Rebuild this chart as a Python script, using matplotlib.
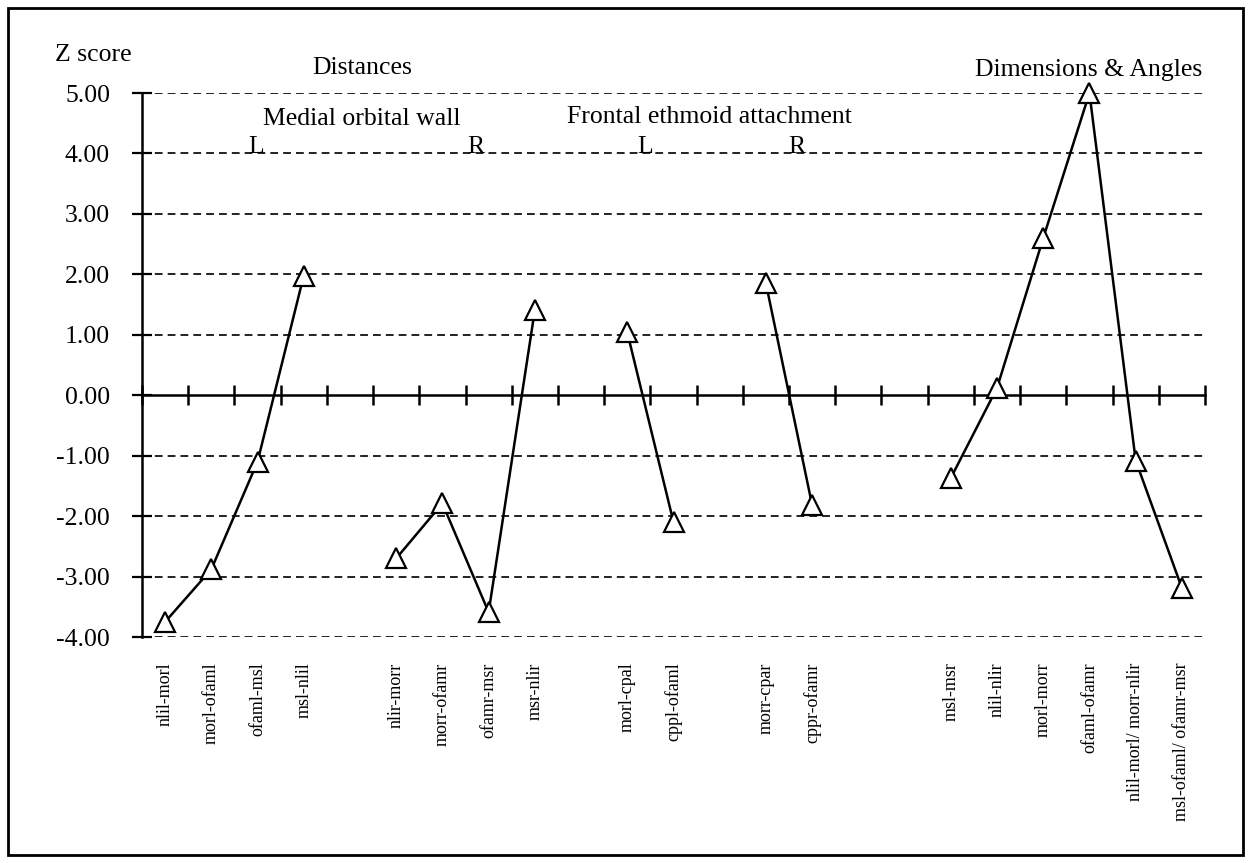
import numpy as np
import matplotlib.pyplot as plt
from matplotlib.patches import Rectangle

plt.rcParams['font.family'] = ['Liberation Serif', 'DejaVu Serif']

# categories along the x axis, blanks separate the measurement groups
categories = ['nlil-morl', 'morl-ofaml', 'ofaml-msl', 'msl-nlil', '',
              'nlir-morr', 'morr-ofamr', 'ofamr-msr', 'msr-nlir', '',
              'morl-cpal', 'cppl-ofaml', '',
              'morr-cpar', 'cppr-ofamr', '', '',
              'msl-msr', 'nlil-nlir', 'morl-morr', 'ofaml-ofamr',
              'nlil-morl/ morr-nlir', 'msl-ofaml/ ofamr-msr']
z_scores = [-3.75, -2.88, -1.10, 1.98, np.nan,
            -2.70, -1.79, -3.59, 1.41, np.nan,
            1.04, -2.10, np.nan,
            1.85, -1.82, np.nan, np.nan,
            -1.37, 0.12, 2.60, 5.00, -1.08, -3.19]
y_ticks = [5, 4, 3, 2, 1, 0, -1, -2, -3, -4]

fig = plt.figure(figsize=(12.5, 8.63), dpi=100)
ax = fig.add_axes([142 / 1250, 1 - 637 / 863, 1063 / 1250, 544 / 863])

x = np.arange(len(categories))
y = np.array(z_scores, dtype=float)

# dashed horizontal grid
for v in y_ticks:
    if v != 0:
        ax.hlines(v, -0.5, 22.6, colors='#222222', linewidth=1.4,
                  linestyles=(0, (4, 2.6)), zorder=1)

ax.plot(x, y, color='black', linewidth=1.8, marker='^', markersize=14,
        markerfacecolor='white', markeredgecolor='black', markeredgewidth=1.6,
        clip_on=False, zorder=3)

ax.set_xlim(-0.5, 22.5)
ax.set_ylim(-4, 5)

for s in ['top', 'right']:
    ax.spines[s].set_visible(False)
ax.spines['bottom'].set_position(('data', 0))
ax.spines['bottom'].set_linewidth(1.8)
ax.spines['left'].set_linewidth(1.8)

ax.set_xticks(np.arange(-0.5, 23, 1))
ax.set_xticklabels([])
ax.tick_params(axis='x', direction='inout', length=14, width=1.8)

ax.set_yticks(y_ticks)
ax.set_yticklabels([f'{v:.2f}' for v in y_ticks], fontsize=18.5)
ax.tick_params(axis='y', direction='inout', length=14, width=1.6, pad=16)

# rotated category names under the plot
for xi, name in zip(x, categories):
    if name:
        ax.text(xi, -4.42, name, rotation=90, ha='center', va='top',
                fontsize=13)

# titles and group labels
fig.text(55 / 1250, 1 - 55 / 863, 'Z score', fontsize=18.5, va='center')
fig.text(312 / 1250, 1 - 68 / 863, 'Distances', fontsize=18.5, va='center')
fig.text(263 / 1250, 1 - 119 / 863, 'Medial orbital wall', fontsize=18.5, va='center')
fig.text(567 / 1250, 1 - 117 / 863, 'Frontal ethmoid attachment', fontsize=18.5, va='center')
fig.text(1202 / 1250, 1 - 70 / 863, 'Dimensions & Angles', fontsize=18.5,
         va='center', ha='right')
for xp, lab in [(256, 'L'), (476, 'R'), (645, 'L'), (797, 'R')]:
    fig.text(xp / 1250, 1 - 153 / 863, lab, fontsize=18.5, ha='center', va='baseline')

# border around the whole figure
fig.patches.append(Rectangle((8 / 1250, 1 - 855 / 863), 1235 / 1250, 847 / 863,
                             transform=fig.transFigure, fill=False,
                             edgecolor='black', linewidth=2))

fig.savefig('out.png', dpi=100)
